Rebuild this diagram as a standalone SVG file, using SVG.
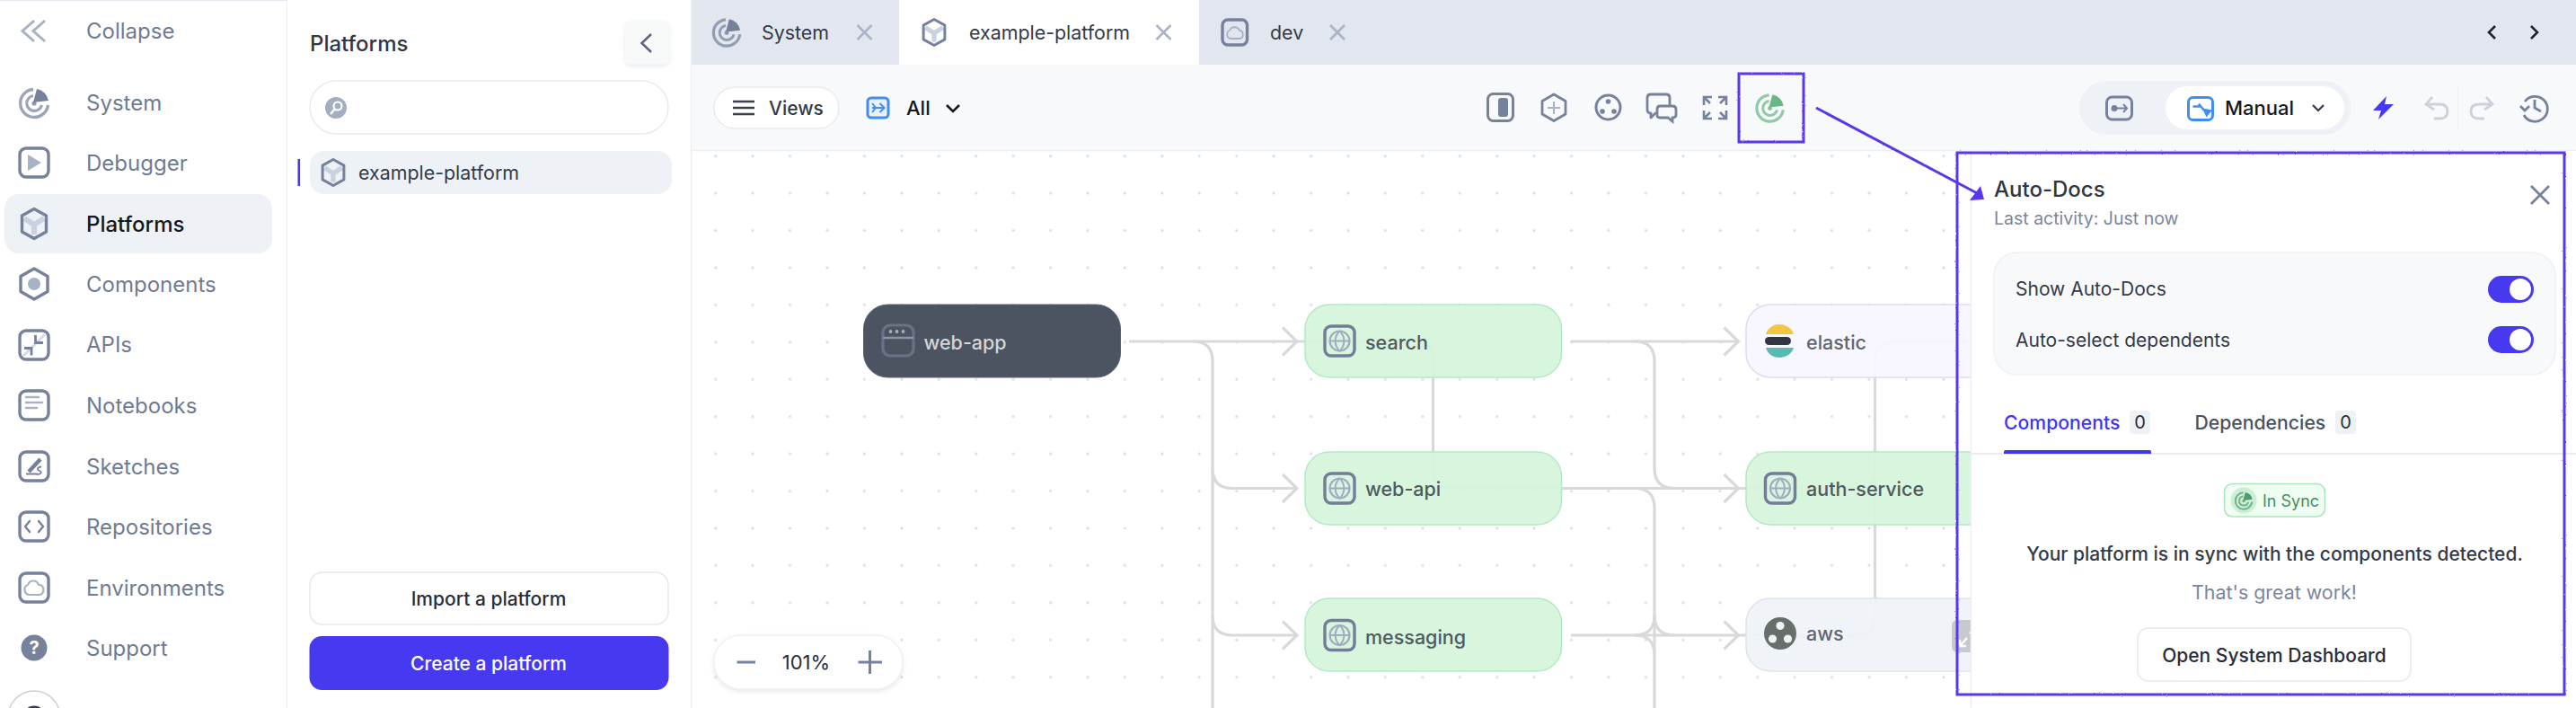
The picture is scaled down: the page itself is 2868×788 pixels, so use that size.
<svg xmlns="http://www.w3.org/2000/svg" width="2868" height="788" viewBox="0 0 2868 788">
<style>
text{font-family:Inter,"Noto Sans","Liberation Sans",sans-serif;dominant-baseline:central}
.nav{font-size:24px;fill:#6f7b92}
.navon{font-size:24px;fill:#15191f;font-weight:500}
.t22{font-size:21.4px;fill:#333a49}
.t21{font-size:21px;fill:#333a49}
.btn{font-size:21px;fill:#272d3a;font-weight:500;text-anchor:middle}
.lab{font-size:21.5px;fill:#4f5a60;font-weight:500}
.conn{fill:none;stroke:#d9d9d9;stroke-width:3.2}
.ic{fill:none;stroke:#76829b;stroke-width:3.4;stroke-linecap:round;stroke-linejoin:round}
.il{fill:none;stroke:#a7b2c4;stroke-width:3;stroke-linecap:round;stroke-linejoin:round}
.x{fill:none;stroke:#a9b4c6;stroke-width:2.6}
.g{fill:#d5f4db;fill-opacity:.93;stroke:#b4e9c4;stroke-width:1.5}
.ann{fill:none;stroke:#5a37ea;stroke-width:3;filter:url(#rough)}
</style>
<defs>
<pattern id="dots" x="776" y="153" width="41.43" height="41.43" patternUnits="userSpaceOnUse"><circle cx="20.7" cy="20.7" r="1.6" fill="#d9dee6"/></pattern>
<filter id="rough" x="-5%" y="-5%" width="110%" height="110%"><feTurbulence type="fractalNoise" baseFrequency=".8" numOctaves="1" seed="3"/><feDisplacementMap in="SourceGraphic" scale="2.2"/></filter>
<filter id="sh" x="-20%" y="-20%" width="140%" height="150%"><feDropShadow dx="0" dy="2" stdDeviation="2.5" flood-color="#8a94a6" flood-opacity=".22"/></filter>
<path id="chev" d="M-16 -15.5 L0 0 L-16 15.5" fill="none" stroke="#d9d9d9" stroke-width="3.2"/>
<g id="radar" fill="none" stroke="currentColor">
<path d="M-1 -15.5A15.5 15.5 0 1 0 15.5 2" stroke-width="3.4" opacity=".72"/>
<path d="M-1 -8.5A8.5 8.5 0 1 0 8.5 2" stroke-width="3.2" opacity=".72"/>
<circle r="2.6" fill="currentColor" stroke="none" opacity=".8"/>
<path d="M-1 -1L3 -16A16 16 0 0 1 16 -3Z" fill="currentColor" stroke="none"/>
</g>
<g id="hex"><path d="M-11 -6L0 1L11 -6M0 1V12" style="fill:none;stroke:#c9d2de;stroke-width:6"/><path class="ic" d="M0 -16.5L13.5 -9V9L0 16.5L-13.5 9V-9Z"/></g>
<rect id="rb" x="-16" y="-16" width="32" height="32" rx="7" class="ic"/>
<g id="web"><circle r="11" fill="none" stroke="#a3abc0" stroke-width="2.2"/><path d="M-11 0H11M0 -11C-6.5 -5 -6.5 5 0 11C6.5 5 6.5 -5 0 -11" fill="none" stroke="#a3abc0" stroke-width="2"/><rect x="-16.5" y="-16.5" width="33" height="33" rx="7" fill="none" stroke="#747d98" stroke-width="3.4"/></g>
<path id="xx" d="M-8 -8L8 8M8 -8L-8 8" class="x"/>
</defs>

<rect width="2868" height="788" fill="#fff"/>
<rect x="770" y="168" width="1430" height="620" fill="url(#dots)"/>

<g id="connectors">
<path class="conn" d="M1257 380H1444"/>
<path class="conn" d="M1328 380Q1350 380 1350 402V788"/>
<path class="conn" d="M1350 521Q1350 543.5 1372 543.5H1444"/>
<path class="conn" d="M1350 685Q1350 707 1372 707H1444"/>
<use href="#chev" x="1444" y="380"/><use href="#chev" x="1444" y="543.5"/><use href="#chev" x="1444" y="707"/>
<path class="conn" d="M1444 380H1575Q1595.5 380 1595.5 400V523Q1595.5 543.5 1616 543.5H2067Q2087.5 543.5 2087.5 523V400Q2087.5 380 2108 380H2195"/>
<path class="conn" d="M2087.5 523V687Q2087.5 707 2067 707H1935"/>
<path class="conn" d="M1749 380H1935.5"/>
<path class="conn" d="M1738 543.5H1935.5"/>
<path class="conn" d="M1749 707H1935.5"/>
<path class="conn" d="M1820 380Q1842 380 1842 402V521Q1842 543.5 1864 543.5"/>
<path class="conn" d="M1820 543.5Q1842 543.5 1842 565V788"/>
<path class="conn" d="M1820 707Q1842 707 1842 685"/>
<path class="conn" d="M1820 707Q1842 707 1842 729"/>
<path class="conn" d="M1842 685Q1842 707 1864 707"/>
<use href="#chev" x="1935.5" y="380"/><use href="#chev" x="1935.5" y="543.5"/><use href="#chev" x="1935.5" y="707"/>
</g>

<g id="node-web-app"><rect x="961.5" y="339" width="286" height="81" rx="27" fill="#474e5c" fill-opacity=".97" stroke="#5a6170"/><rect x="983" y="362" width="34" height="34" rx="8" fill="none" stroke="#687387" stroke-width="3.2"/><path d="M983 376H1017" stroke="#8a94a6" stroke-width="2.4"/><circle cx="991.5" cy="369" r="1.9" fill="#a7b0bf"/><circle cx="998.5" cy="369" r="1.9" fill="#a7b0bf"/><circle cx="1005.5" cy="369" r="1.9" fill="#a7b0bf"/><text x="1028.5" y="381" font-size="21.5" font-weight="500" fill="#d3d5d9">web-app</text></g>
<g id="node-search"><rect class="g" x="1453" y="339" width="285.5" height="81" rx="27"/><use href="#web" x="1491.5" y="379.5"/><text class="lab" x="1520" y="381">search</text></g>
<g id="node-web-api"><rect class="g" x="1453" y="503" width="285.5" height="81" rx="27"/><use href="#web" x="1491.5" y="543.5"/><text class="lab" x="1520" y="544">web-api</text></g>
<g id="node-messaging"><rect class="g" x="1453" y="666" width="285.5" height="81" rx="27"/><use href="#web" x="1491.5" y="707"/><text class="lab" x="1520" y="709">messaging</text></g>
<g id="node-elastic"><rect x="1944" y="339" width="285" height="81" rx="27" fill="#f8f5fe" fill-opacity=".93" stroke="#e2d7f8" stroke-width="1.5"/><path d="M1966 372C1968 365 1974 361 1981 361C1988 361 1995 365 1997 372Z" fill="#f4c542"/><rect x="1965" y="375" width="29" height="9" rx="4.5" fill="#323642"/><path d="M1966 387C1968 394 1974 398 1981 398C1988 398 1995 394 1997 387Z" fill="#56bcb3"/><text class="lab" x="2011" y="381" style="fill:#5f6672">elastic</text></g>
<g id="node-auth-service"><rect class="g" x="1944" y="503" width="285" height="81" rx="27"/><use href="#web" x="1982" y="543.5"/><text class="lab" x="2011" y="544">auth-service</text></g>
<g id="node-aws"><rect x="1944" y="666" width="285" height="81" rx="27" fill="#eff2f7" fill-opacity=".93" stroke="#dfe3ea" stroke-width="1.5"/><circle cx="1982" cy="705" r="18" fill="#686f6b"/><circle cx="1982" cy="696.5" r="4.6" fill="#eff2f7"/><circle cx="1973.5" cy="711" r="4.6" fill="#eff2f7"/><circle cx="1990.5" cy="711" r="4.6" fill="#eff2f7"/><text class="lab" x="2011" y="705" style="fill:#5f6672">aws</text><rect x="2173" y="690" width="40" height="36" rx="6" fill="#c7cacd"/><path d="M2182 719L2190 710M2182 719V712M2182 719H2189M2193 705L2199 699" stroke="#fff" stroke-width="2.4" fill="none"/></g>

<g id="node-zoom-control"><rect x="795" y="707" width="210" height="60" rx="30" fill="#fff" stroke="#eef1f6" stroke-width="1.5" filter="url(#sh)"/><path d="M820.5 737H841M955.5 737H982M968.5 724V750" stroke="#76829b" stroke-width="3" fill="none"/><text x="897.5" y="737" font-size="22" text-anchor="middle" fill="#272d3a">101%</text></g>

<g id="node-sidebar">
<rect width="320" height="788" fill="#fff"/><path d="M319.5 0V788" stroke="#eef0f4" stroke-width="1.5"/><path d="M0 .5H320" stroke="#e2e7ef"/>
<path d="M38 23L25 34.5L38 46M50 23L37 34.5L50 46" fill="none" stroke="#a7b2c4" stroke-width="3"/>
<text class="nav" x="96" y="34">Collapse</text>
<use href="#radar" x="38" y="115" color="#76829b"/><text class="nav" x="96" y="114">System</text>
<use href="#rb" x="38" y="181"/><path d="M31 172V190L46 181Z" fill="#a7b2c4"/><text class="nav" x="96" y="181">Debugger</text>
<rect x="5" y="216" width="298" height="66" rx="16" fill="#eef1f6"/>
<use href="#hex" x="38" y="249"/><text class="navon" x="96" y="249">Platforms</text>
<path class="ic" d="M38 299L53 307.5V324.5L38 333L23 324.5V307.5Z"/><circle cx="38" cy="316" r="7" fill="#a7b2c4"/><text class="nav" x="96" y="316">Components</text>
<path d="M26 396L50 372" stroke="#d5dbe5" stroke-width="3"/><use href="#rb" x="38" y="384"/><path d="M39.5 373V381.5H48M27 387.5H35V395.5" fill="none" stroke="#76829b" stroke-width="2.8"/><text class="nav" x="96" y="383">APIs</text>
<use href="#rb" x="38" y="451"/><path class="il" d="M29 442H43M29 448H47M29 454H41" style="stroke-width:2.6"/><text class="nav" x="96" y="451">Notebooks</text>
<use href="#rb" x="38" y="519"/><path d="M45 511L32 525" stroke="#76829b" stroke-width="4.5" fill="none"/><path d="M29 527.5H42M46 519.5C41 520 41 523 44 524C47 525 46 528 41 528" fill="none" stroke="#76829b" stroke-width="1.8"/><text class="nav" x="96" y="519">Sketches</text>
<use href="#rb" x="38" y="586"/><path class="ic" d="M33 580L28 586L33 592M43 580L48 586L43 592" style="stroke-width:2.4"/><text class="nav" x="96" y="586">Repositories</text>
<use href="#rb" x="38" y="654"/><path class="il" d="M33 662C26 662 26 652 31 651C33 645 41 645 43 651C50 650 50 662 44 662Z" style="stroke-width:2.2"/><text class="nav" x="96" y="654">Environments</text>
<circle cx="38" cy="721" r="14.5" fill="#76829b"/><text x="38" y="721" font-size="20" font-weight="700" text-anchor="middle" fill="#fff">?</text><text class="nav" x="96" y="721">Support</text>
<circle cx="38" cy="798" r="29" fill="#fff" stroke="#c9ced6" stroke-width="1.5"/><ellipse cx="38" cy="789" rx="7.5" ry="3.5" fill="#3b4150"/>
</g>

<g id="node-platforms-panel">
<rect x="320" width="450" height="788" fill="#fff"/><path d="M769.5 0V788" stroke="#eef0f4" stroke-width="1.5"/>
<text x="345" y="48" font-size="24" font-weight="500" fill="#2f3644">Platforms</text>
<rect x="696" y="23" width="49" height="48.5" rx="7" fill="#f8f9fb" filter="url(#sh)"/><path d="M725 38L714.5 48L725 58" fill="none" stroke="#5d687e" stroke-width="2.6"/>
<rect x="345" y="90" width="399" height="59" rx="29.5" fill="#fff" stroke="#e8ebf0" stroke-width="1.5"/>
<circle cx="374" cy="120" r="12" fill="#a3aec0"/><circle cx="376" cy="118" r="4.5" fill="none" stroke="#fff" stroke-width="2.2"/><path d="M373 121L368 127" stroke="#fff" stroke-width="2.4"/>
<rect x="331.5" y="177" width="2.6" height="30" fill="#4639f0"/>
<rect x="345" y="168" width="403" height="48" rx="16" fill="#eef1f6"/>
<use href="#hex" transform="translate(371 192) scale(.88)"/>
<text class="t22" x="399" y="192">example-platform</text>
<rect x="345" y="637" width="399" height="58" rx="14" fill="#fff" stroke="#e6e9ef" stroke-width="1.5"/><text class="btn" x="544" y="666">Import a platform</text>
<rect x="344.5" y="708" width="400" height="60" rx="14" fill="#4639f0"/><text class="btn" x="544" y="738" style="fill:#fff">Create a platform</text>
</g>

<g id="node-tabs">
<rect x="770" width="2098" height="72" fill="#e2e7ef"/>
<rect x="1001" width="334" height="72" fill="#fff"/>
<use href="#radar" transform="translate(809 36.5) scale(.95)" color="#76829b"/><text class="t22" x="848" y="36">System</text><use href="#xx" x="962.5" y="36"/>
<use href="#hex" transform="translate(1040 36) scale(.88)"/><text class="t22" x="1079" y="36">example-platform</text><use href="#xx" x="1295.5" y="36"/>
<rect x="1361" y="22" width="27.5" height="28" rx="6" class="ic"/><path class="il" d="M1371 43C1365 43 1365 35 1369 34C1371 29 1378 29 1380 34C1385 34 1385 43 1380 43Z" style="stroke-width:1.8"/><text class="t22" x="1414" y="36">dev</text><use href="#xx" x="1489" y="36"/>
<path d="M2778 29L2771 36L2778 43M2818 29L2825 36L2818 43" fill="none" stroke="#1f2430" stroke-width="2.6"/>
</g>

<g id="node-toolbar">
<rect x="770" y="72" width="2098" height="95" fill="#f8f9fb"/><path d="M770 167.5H2868" stroke="#eceff3" stroke-width="1.5"/>
<rect x="795" y="97" width="139" height="46" rx="23" fill="#fff" stroke="#e8ebf0" stroke-width="1.5"/><path d="M816 113H840M816 120H840M816 127H840" stroke="#3a4050" stroke-width="2.6"/><text class="t21" x="856" y="120" font-weight="500">Views</text>
<rect x="966" y="109" width="23" height="22" rx="4" fill="#e9f1fe" stroke="#3f8ef6" stroke-width="3"/><path d="M971 115L975 120L971 125M971 120H984M979.500 115L984.500 120L979.500 125" fill="none" stroke="#3f8ef6" stroke-width="2"/><text x="1009" y="120" font-size="22" font-weight="500" fill="#15191f">All</text><path d="M1054 117L1061 124L1068 117" fill="none" stroke="#15191f" stroke-width="2.6"/>
<rect x="1656.5" y="104.5" width="28" height="30" rx="6" fill="none" stroke="#76829b" stroke-width="3"/><rect x="1668" y="109" width="11" height="21" rx="3" fill="#76829b"/>
<path class="ic" d="M1730 105L1743 112.5V127L1730 134.5L1717 127V112.5Z" style="stroke-width:2.8"/><path d="M1723 120H1737M1730 113V127" stroke="#a7b2c4" stroke-width="2"/>
<circle cx="1790.500" cy="119.500" r="13.500" fill="none" stroke="#76829b" stroke-width="3"/><circle cx="1790.500" cy="113" r="2.800" fill="#76829b"/><circle cx="1784" cy="124" r="2.800" fill="#76829b"/><circle cx="1797" cy="124" r="2.800" fill="#76829b"/>
<path class="ic" d="M1859 117V109Q1859 105 1855 105H1838Q1834 105 1834 109V122Q1834 126 1838 126V131L1843 126" style="stroke-width:2.8"/><path d="M1848 118H1862Q1866 118 1866 122V128Q1866 131 1862 131V135L1857 131H1848Q1845 131 1845 128V122Q1845 118 1848 118Z" fill="none" stroke="#76829b" stroke-width="2.8"/>
<path d="M1897 117V108H1906M1913 108H1922V117M1897 123V132H1906M1913 132H1922V123M1898 109L1904 115M1921 109L1915 115M1898 131L1904 125M1921 131L1915 125" fill="none" stroke="#76829b" stroke-width="2.6"/>
<use href="#radar" transform="translate(1970.500 120.500) scale(.95)" color="#67b882"/>
<rect x="2315" y="90" width="302" height="60" rx="30" fill="#eef1f6"/>
<rect x="2345.500" y="108" width="28" height="25" rx="6" fill="#eef1f6" stroke="#76829b" stroke-width="3"/><circle cx="2354" cy="120.500" r="3.500" fill="#76829b"/><path d="M2357 120.500H2368M2364 116L2368 120.500L2364 125" fill="none" stroke="#76829b" stroke-width="2"/>
<rect x="2411" y="96" width="199" height="48" rx="24" fill="#fff"/>
<rect x="2436.500" y="108.500" width="27" height="25" rx="5" fill="#fff" stroke="#3f8ef6" stroke-width="3"/><path d="M2441.500 118.500H2450M2448 115.500L2454 123" fill="none" stroke="#3f8ef6" stroke-width="2.400"/><path d="M2452 120.500L2463 122.500L2456.500 130.500Z" fill="#3f8ef6"/>
<text x="2477" y="120" font-size="22" font-weight="500" fill="#15191f">Manual</text><path d="M2575 117L2581 123L2587 117" fill="none" stroke="#333a49" stroke-width="2.2"/>
<path d="M2657 107L2642 123H2651L2648 133L2665 116H2655Z" fill="#4639f0"/>
<path d="M2708 108L2701 116L2710 122M2702 116H2716Q2725 116 2725 124Q2725 132 2716 132H2710" fill="none" stroke="#cbd2db" stroke-width="2.8"/>
<path d="M2737 96V144" stroke="#eceff3" stroke-width="1.2"/>
<path d="M2768 108L2775 116L2766 122M2774 116H2760Q2751 116 2751 124Q2751 132 2760 132H2766" fill="none" stroke="#cbd2db" stroke-width="2.8"/>
<path d="M2811 113A14 14 0 1 1 2810 128M2806 118L2811 123L2816 118M2822 111V120L2829 124" fill="none" stroke="#76829b" stroke-width="2.8"/>
</g>

<g id="node-auto-docs">
<rect x="2195" y="168" width="673" height="620" fill="#fff"/><path d="M2194.500 168V788" stroke="#eceff3" stroke-width="1.5"/>
<text x="2220" y="210" font-size="24" font-weight="500" fill="#2f3644">Auto-Docs</text>
<text x="2220" y="243" font-size="19.500" fill="#7c869c">Last activity: Just now</text>
<path d="M2818 207L2838 227M2838 207L2818 227" stroke="#76829b" stroke-width="2.8"/>
<rect x="2220" y="281" width="625" height="136" rx="26" fill="#f8f9fb" stroke="#eef1f6" stroke-width="1.5"/>
<text class="t21" x="2244" y="321">Show Auto-Docs</text><text class="t21" x="2244" y="378">Auto-select dependents</text>
<rect x="2770" y="307" width="51" height="30" rx="15" fill="#4639f0"/><circle cx="2806" cy="322" r="12" fill="#fff"/>
<rect x="2770" y="363" width="51" height="30" rx="15" fill="#4639f0"/><circle cx="2806" cy="378" r="12" fill="#fff"/>
<text x="2231" y="470" font-size="21.200" font-weight="500" fill="#3f37f0">Components</text><rect x="2371" y="457" width="23" height="26" rx="4" fill="#eef1f6"/><text x="2382.500" y="470" font-size="20" text-anchor="middle" fill="#272d3a">0</text>
<text x="2443.500" y="470" font-size="21.200" font-weight="500" fill="#4a5263">Dependencies</text><rect x="2600" y="457" width="23" height="26" rx="4" fill="#eef1f6"/><text x="2611.500" y="470" font-size="20" text-anchor="middle" fill="#272d3a">0</text>
<path d="M2195 505H2868" stroke="#e2e7ef" stroke-width="1.5"/>
<path d="M2231 505V503Q2231 501 2233 501H2393Q2395 501 2395 503V505Z" fill="#3f37f0"/>
<rect x="2476.500" y="538.500" width="112" height="36.500" rx="9" fill="#f0fdf3" stroke="#a9e6bc" stroke-width="1.5"/><circle cx="2498" cy="557" r="14.500" fill="#cdeed6"/><use href="#radar" transform="translate(2498 557.500) scale(.6)" color="#4f9a6c"/><text x="2519" y="557" font-size="18" fill="#4d8c66">In Sync</text>
<text x="2532.500" y="616" font-size="21" font-weight="500" fill="#333a49" text-anchor="middle">Your platform is in sync with the components detected.</text>
<text x="2532" y="659" font-size="21.400" fill="#7c869c" text-anchor="middle">That's great work!</text>
<rect x="2380" y="699" width="304" height="59" rx="12" fill="#fff" stroke="#e6e9ef" stroke-width="1.5"/><text class="btn" x="2532" y="729">Open System Dashboard</text>
</g>

<g id="annotation-connector">
<rect class="ann" x="1936" y="82" width="72" height="76"/>
<rect class="ann" x="2179" y="170" width="676" height="603"/>
<path class="ann" d="M2022 120L2203 216"/>
<path d="M2205 207L2193 223L2209 222Z" fill="#5a37ea"/>
</g>
</svg>
